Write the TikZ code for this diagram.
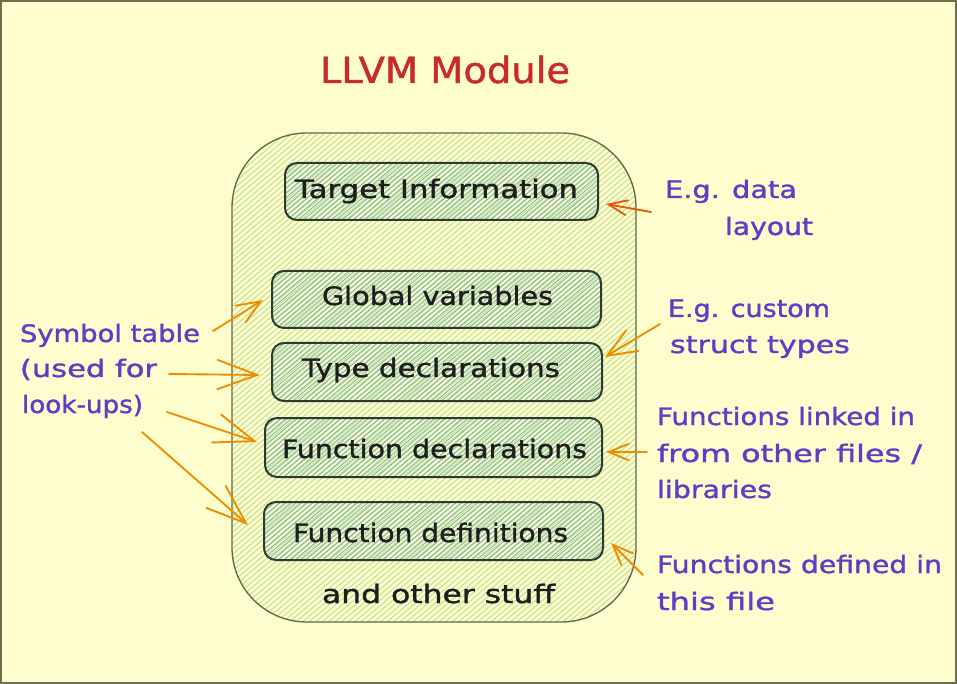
\documentclass[tikz,border=0pt]{standalone}
\usepackage{fontspec}
\setmainfont[FakeBold=1.2]{DejaVu Sans}
\usetikzlibrary{arrows.meta,calc}
\definecolor{bg}{HTML}{FEFDCD}
\definecolor{framec}{HTML}{6E6E4E}
\definecolor{outerline}{HTML}{5E6A48}
\definecolor{outerhatch}{HTML}{C6E19A}
\definecolor{innerhatch}{HTML}{7DB8B0}
\definecolor{innerline}{HTML}{2E3A30}
\definecolor{titlered}{HTML}{C92A2A}
\definecolor{violet}{HTML}{5F3DC4}
\definecolor{arrowred}{HTML}{E8590C}
\definecolor{arroworange}{HTML}{F08C00}
\definecolor{ink}{HTML}{1E1E1E}
\begin{document}
\begin{tikzpicture}[x=0.75pt,y=-0.75pt,
  every node/.style={inner sep=0pt, outer sep=0pt},
  hatch/.style n args={3}{path picture={
    \foreach \k in {-90,...,90}{
      \draw[#1,line width=#2] ($(path picture bounding box.center)+(\k*#3,0)+(-400,340)$) -- ++(800,-680);
    }}},
  modulebox/.style={draw=outerline, line width=1pt, rounded corners=56pt, hatch={outerhatch}{0.8pt}{6.5}},
  partbox/.style={draw=innerline, line width=1.5pt, rounded corners=9pt, hatch={innerhatch}{0.7pt}{5.5}},
  boxtext/.style={anchor=base west, text=ink, font=\fontsize{19}{22}\selectfont},
  note/.style={anchor=base west, text=violet, font=\fontsize{18}{21}\selectfont},
  titletext/.style={anchor=base west, text=titlered, font=\fontsize{27}{30}\selectfont},
  conn/.style 2 args={line width=1.4pt, line cap=round, -{Straight Barb[length=#1pt, width=#2pt, line cap=round]}},
]
\useasboundingbox (0,0) rectangle (957,684);
\node[fill=bg, draw=framec, line width=1.5pt, minimum width=716.25pt, minimum height=511.5pt] (canvas) at (478.5,342) {};

% title
\node[titletext] (title) at (320,83) {\resizebox{187.5pt}{\height}{LLVM Module}};

% module container
\node[modulebox, minimum width=303pt, minimum height=366.75pt] (module) at (434,377.5) {};

% parts
\node[partbox, minimum width=234.75pt, minimum height=42.75pt] (ti) at (441.5,191.5) {};
\node[partbox, minimum width=246.75pt, minimum height=42.75pt] (gv) at (436.5,299.5) {};
\node[partbox, minimum width=247.5pt, minimum height=43.5pt] (td) at (437,372) {};
\node[partbox, minimum width=252.75pt, minimum height=44.25pt] (fdecl) at (433.5,447.5) {};
\node[partbox, minimum width=254.25pt, minimum height=43.5pt] (fdef) at (433.5,531) {};

\node[boxtext] (tiT) at (295,198) {\resizebox{212.25pt}{\height}{Target Information}};
\node[boxtext] (gvT) at (322,305) {\resizebox{173.25pt}{\height}{Global variables}};
\node[boxtext] (tdT) at (302,377) {\resizebox{193.5pt}{\height}{Type declarations}};
\node[boxtext] (fdeclT) at (282,458) {\resizebox{228.75pt}{\height}{Function declarations}};
\node[boxtext] (fdefT) at (293,542) {\resizebox{206.25pt}{\height}{Function definitions}};
\node[boxtext] (other) at (322,603) {\resizebox{174.75pt}{\height}{and other stuff}};

% right notes
\node[note] (egA) at (665,198) {\resizebox{99pt}{\height}{E.g. data}};
\node[note] (egB) at (725,235) {\resizebox{66pt}{\height}{layout}};
\node[note] (ecA) at (668,317) {\resizebox{121.5pt}{\height}{E.g. custom}};
\node[note] (ecB) at (670,353) {\resizebox{135pt}{\height}{struct types}};
\node[note] (flA) at (657,425) {\resizebox{193.5pt}{\height}{Functions linked in}};
\node[note] (flB) at (657,462) {\resizebox{198.75pt}{\height}{from other files /}};
\node[note] (flC) at (657,498) {\resizebox{86.25pt}{\height}{libraries}};
\node[note] (fdA) at (657,573) {\resizebox{213.75pt}{\height}{Functions defined in}};
\node[note] (fdB) at (657,610) {\resizebox{88.5pt}{\height}{this file}};

% left note
\node[note] (stA) at (20,342) {\resizebox{135pt}{\height}{Symbol table}};
\node[note] (stB) at (20,377) {\resizebox{102.75pt}{\height}{(used for}};
\node[note] (stC) at (22,413) {\resizebox{90.75pt}{\height}{look-ups)}};

% arrow tails
\coordinate (r1) at (651,212);
\coordinate (r2) at (660,324);
\coordinate (r3) at (647,452);
\coordinate (r4) at (643,575);
\coordinate (l1) at (213,331);
\coordinate (l2) at (169,374);
\coordinate (l3) at (167,412);
\coordinate (l4) at (142,432);

% arrows
\draw[conn={13.9}{11.2}, arrowred] (r1) -- ($(ti.east)+(8,12.5)$);
\draw[conn={22}{18}, arroworange] (r2) -- ($(td.east)+(3,-15)$);
\draw[conn={15.3}{12.4}, arroworange] (r3) -- ($(fdecl.east)+(4,4.5)$);
\draw[conn={15.3}{12.4}, arroworange] (r4) -- ($(fdef.east)+(8,12)$);
\draw[conn={18}{14.6}, arroworange] (l1) -- ($(gv.west)+(-9,0.5)$);
\draw[conn={29.9}{22}, arroworange] (l2) -- ($(td.west)+(-12,3)$);
\draw[conn={29.9}{22}, arroworange] (l3) -- ($(fdecl.west)+(-8,-5.5)$);
\draw[conn={29.9}{22}, arroworange] (l4) -- ($(fdef.west)+(-16,-6)$);
\end{tikzpicture}
\end{document}
